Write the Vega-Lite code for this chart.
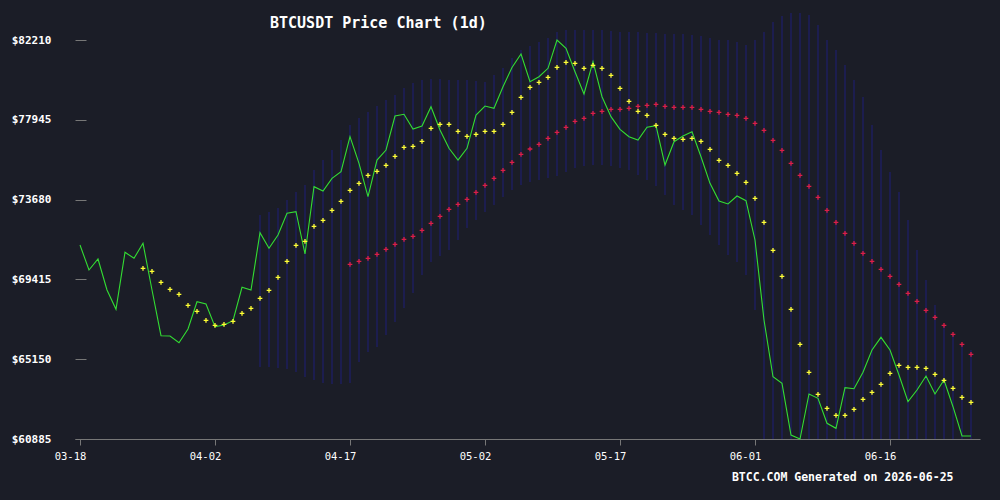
{
  "$schema": "https://vega.github.io/schema/vega-lite/v6.json",
  "width": 905,
  "height": 399,
  "autosize": "none",
  "padding": {"left": 75, "top": 40, "right": 20, "bottom": 61},
  "background": "#1b1d27",
  "title": {
    "text": "BTCUSDT Price Chart (1d)",
    "anchor": "start",
    "frame": "group",
    "dx": 195,
    "offset": -31,
    "baseline": "alphabetic",
    "font": "DejaVu Sans Mono",
    "fontSize": 15,
    "fontWeight": "bold",
    "color": "#ffffff"
  },
  "data": {
    "values": [
      {"d": "2026-03-18", "c": 71254},
      {"d": "2026-03-19", "c": 69917},
      {"d": "2026-03-20", "c": 70505},
      {"d": "2026-03-21", "c": 68848},
      {"d": "2026-03-22", "c": 67817},
      {"d": "2026-03-23", "c": 70863},
      {"d": "2026-03-24", "c": 70543},
      {"d": "2026-03-25", "c": 71344, "m7": 70008},
      {"d": "2026-03-26", "c": 68848, "m7": 69848},
      {"d": "2026-03-27", "c": 66406, "m7": 69260},
      {"d": "2026-03-28", "c": 66390, "m7": 68886},
      {"d": "2026-03-29", "c": 66032, "m7": 68619},
      {"d": "2026-03-30", "c": 66764, "m7": 68031},
      {"d": "2026-03-31", "c": 68223, "m7": 67710},
      {"d": "2026-04-01", "c": 68100, "m7": 67229},
      {"d": "2026-04-02", "c": 66887, "m7": 66962},
      {"d": "2026-04-03", "c": 66978, "m7": 67015},
      {"d": "2026-04-04", "c": 67208, "m7": 67176},
      {"d": "2026-04-05", "c": 68993, "m7": 67603},
      {"d": "2026-04-06", "c": 68848, "m7": 67870},
      {"d": "2026-04-07", "c": 71911, "m7": 68405, "up": 72857, "lo": 64733},
      {"d": "2026-04-08", "c": 71077, "m7": 68832, "up": 73017, "lo": 64733},
      {"d": "2026-04-09", "c": 71788, "m7": 69527, "up": 73231, "lo": 64680},
      {"d": "2026-04-10", "c": 72948, "m7": 70382, "up": 73659, "lo": 64626},
      {"d": "2026-04-11", "c": 73033, "m7": 71238, "up": 74086, "lo": 64466},
      {"d": "2026-04-12", "c": 70773, "m7": 71451, "up": 74460, "lo": 64199},
      {"d": "2026-04-13", "c": 74370, "m7": 72253, "up": 75262, "lo": 64038},
      {"d": "2026-04-14", "c": 74140, "m7": 72574, "up": 75796, "lo": 63878},
      {"d": "2026-04-15", "c": 74818, "m7": 73108, "up": 76331, "lo": 63825},
      {"d": "2026-04-16", "c": 75171, "m7": 73589, "up": 76865, "lo": 63825},
      {"d": "2026-04-17", "c": 77042, "m7": 74177, "m30": 70222, "up": 77667, "lo": 63878},
      {"d": "2026-04-18", "c": 75620, "m7": 74551, "m30": 70382, "up": 78041, "lo": 65000},
      {"d": "2026-04-19", "c": 73835, "m7": 74979, "m30": 70543, "up": 78362, "lo": 65535},
      {"d": "2026-04-20", "c": 75796, "m7": 75193, "m30": 70756, "up": 78683, "lo": 65802},
      {"d": "2026-04-21", "c": 76331, "m7": 75513, "m30": 71024, "up": 79003, "lo": 66443},
      {"d": "2026-04-22", "c": 78148, "m7": 75994, "m30": 71291, "up": 79270, "lo": 67138},
      {"d": "2026-04-23", "c": 78239, "m7": 76475, "m30": 71558, "up": 79645, "lo": 67886},
      {"d": "2026-04-24", "c": 77453, "m7": 76529, "m30": 71719, "up": 79912, "lo": 68688},
      {"d": "2026-04-25", "c": 77614, "m7": 76796, "m30": 72039, "up": 80072, "lo": 69650},
      {"d": "2026-04-26", "c": 78645, "m7": 77491, "m30": 72413, "up": 80126, "lo": 70345},
      {"d": "2026-04-27", "c": 77400, "m7": 77704, "m30": 72787, "up": 80126, "lo": 70666},
      {"d": "2026-04-28", "c": 76422, "m7": 77704, "m30": 73162, "up": 80072, "lo": 70986},
      {"d": "2026-04-29", "c": 75796, "m7": 77330, "m30": 73429, "up": 80072, "lo": 71521},
      {"d": "2026-04-30", "c": 76422, "m7": 77063, "m30": 73696, "up": 80072, "lo": 72162},
      {"d": "2026-05-01", "c": 78202, "m7": 77170, "m30": 74070, "up": 80019, "lo": 72590},
      {"d": "2026-05-02", "c": 78683, "m7": 77330, "m30": 74444, "up": 79965, "lo": 73017},
      {"d": "2026-05-03", "c": 78560, "m7": 77330, "m30": 74818, "up": 80339, "lo": 73391},
      {"d": "2026-05-04", "c": 79714, "m7": 77704, "m30": 75246, "up": 80714, "lo": 73819},
      {"d": "2026-05-05", "c": 80740, "m7": 78346, "m30": 75674, "up": 81248, "lo": 74193},
      {"d": "2026-05-06", "c": 81462, "m7": 79148, "m30": 76101, "up": 81676, "lo": 74460},
      {"d": "2026-05-07", "c": 79981, "m7": 79682, "m30": 76384, "up": 81889, "lo": 74621},
      {"d": "2026-05-08", "c": 80249, "m7": 79949, "m30": 76636, "up": 82103, "lo": 74728},
      {"d": "2026-05-09", "c": 80697, "m7": 80216, "m30": 76956, "up": 82317, "lo": 74834},
      {"d": "2026-05-10", "c": 82210, "m7": 80751, "m30": 77277, "up": 82638, "lo": 74941},
      {"d": "2026-05-11", "c": 81766, "m7": 81018, "m30": 77544, "up": 82744, "lo": 75155},
      {"d": "2026-05-12", "c": 80516, "m7": 80965, "m30": 77865, "up": 82744, "lo": 75369},
      {"d": "2026-05-13", "c": 79324, "m7": 80697, "m30": 78025, "up": 82744, "lo": 75476},
      {"d": "2026-05-14", "c": 81050, "m7": 80858, "m30": 78292, "up": 82744, "lo": 75529},
      {"d": "2026-05-15", "c": 79180, "m7": 80697, "m30": 78399, "up": 82744, "lo": 75529},
      {"d": "2026-05-16", "c": 78111, "m7": 80323, "m30": 78506, "up": 82691, "lo": 75476},
      {"d": "2026-05-17", "c": 77437, "m7": 79629, "m30": 78506, "up": 82638, "lo": 75369},
      {"d": "2026-05-18", "c": 77042, "m7": 78934, "m30": 78560, "up": 82638, "lo": 75262},
      {"d": "2026-05-19", "c": 76865, "m7": 78399, "m30": 78667, "up": 82638, "lo": 74995},
      {"d": "2026-05-20", "c": 77544, "m7": 78185, "m30": 78720, "up": 82584, "lo": 74728},
      {"d": "2026-05-21", "c": 77630, "m7": 77651, "m30": 78773, "up": 82584, "lo": 74407},
      {"d": "2026-05-22", "c": 75529, "m7": 77170, "m30": 78667, "up": 82531, "lo": 73926},
      {"d": "2026-05-23", "c": 76775, "m7": 76956, "m30": 78613, "up": 82531, "lo": 73391},
      {"d": "2026-05-24", "c": 77079, "m7": 76903, "m30": 78613, "up": 82531, "lo": 73124},
      {"d": "2026-05-25", "c": 77309, "m7": 76956, "m30": 78613, "up": 82477, "lo": 72857},
      {"d": "2026-05-26", "c": 75973, "m7": 76796, "m30": 78506, "up": 82424, "lo": 72322},
      {"d": "2026-05-27", "c": 74551, "m7": 76368, "m30": 78399, "up": 82317, "lo": 71788},
      {"d": "2026-05-28", "c": 73605, "m7": 75780, "m30": 78346, "up": 82210, "lo": 71254},
      {"d": "2026-05-29", "c": 73445, "m7": 75513, "m30": 78239, "up": 82210, "lo": 70719},
      {"d": "2026-05-30", "c": 73872, "m7": 75086, "m30": 78185, "up": 82103, "lo": 70345},
      {"d": "2026-05-31", "c": 73621, "m7": 74605, "m30": 78025, "up": 81943, "lo": 69650},
      {"d": "2026-06-01", "c": 71521, "m7": 73749, "m30": 77758, "up": 82210, "lo": 67780},
      {"d": "2026-06-02", "c": 67245, "m7": 72467, "m30": 77384, "up": 82638, "lo": 60885},
      {"d": "2026-06-03", "c": 64214, "m7": 70970, "m30": 76849, "up": 83172, "lo": 60885},
      {"d": "2026-06-04", "c": 63862, "m7": 69581, "m30": 76315, "up": 83493, "lo": 60885},
      {"d": "2026-06-05", "c": 61099, "m7": 67817, "m30": 75620, "up": 83653, "lo": 60885},
      {"d": "2026-06-06", "c": 60885, "m7": 65946, "m30": 74979, "up": 83653, "lo": 60885},
      {"d": "2026-06-07", "c": 63290, "m7": 64450, "m30": 74391, "up": 83546, "lo": 60885},
      {"d": "2026-06-08", "c": 63060, "m7": 63274, "m30": 73803, "up": 83012, "lo": 60885},
      {"d": "2026-06-09", "c": 61724, "m7": 62526, "m30": 73108, "up": 82210, "lo": 60885},
      {"d": "2026-06-10", "c": 61457, "m7": 62152, "m30": 72467, "up": 81676, "lo": 60885},
      {"d": "2026-06-11", "c": 63627, "m7": 62152, "m30": 71879, "up": 80874, "lo": 60885},
      {"d": "2026-06-12", "c": 63574, "m7": 62472, "m30": 71344, "up": 80072, "lo": 60885},
      {"d": "2026-06-13", "c": 64450, "m7": 63007, "m30": 70810, "up": 79163, "lo": 60885},
      {"d": "2026-06-14", "c": 65642, "m7": 63381, "m30": 70382, "up": 77667, "lo": 60885},
      {"d": "2026-06-15", "c": 66320, "m7": 63809, "m30": 69955, "up": 76331, "lo": 60885},
      {"d": "2026-06-16", "c": 65642, "m7": 64396, "m30": 69581, "up": 75155, "lo": 60885},
      {"d": "2026-06-17", "c": 64306, "m7": 64824, "m30": 69153, "up": 74086, "lo": 60885},
      {"d": "2026-06-18", "c": 62878, "m7": 64717, "m30": 68672, "up": 72590, "lo": 60885},
      {"d": "2026-06-19", "c": 63504, "m7": 64717, "m30": 68244, "up": 70986, "lo": 60885},
      {"d": "2026-06-20", "c": 64252, "m7": 64664, "m30": 67764, "up": 69383, "lo": 60885},
      {"d": "2026-06-21", "c": 63290, "m7": 64343, "m30": 67389, "up": 68047, "lo": 60885},
      {"d": "2026-06-22", "c": 64038, "m7": 64022, "m30": 66962, "up": 66978, "lo": 60885},
      {"d": "2026-06-23", "c": 62611, "m7": 63595, "m30": 66481, "up": 66444, "lo": 60885},
      {"d": "2026-06-24", "c": 61045, "m7": 63114, "m30": 65946, "up": 65909, "lo": 60885},
      {"d": "2026-06-25", "c": 61045, "m7": 62847, "m30": 65412, "up": 65642, "lo": 60885}
    ]
  },
  "encoding": {
    "x": {
      "field": "d",
      "type": "temporal",
      "scale": {
        "type": "utc",
        "domain": [
          {"year": 2026, "month": 3, "date": 17, "hours": 10, "minutes": 40, "utc": true},
          {"year": 2026, "month": 6, "date": 26, "utc": true}
        ]
      },
      "axis": {
        "values": [
          {"year": 2026, "month": 3, "date": 18, "utc": true},
          {"year": 2026, "month": 4, "date": 2, "utc": true},
          {"year": 2026, "month": 4, "date": 17, "utc": true},
          {"year": 2026, "month": 5, "date": 2, "utc": true},
          {"year": 2026, "month": 5, "date": 17, "utc": true},
          {"year": 2026, "month": 6, "date": 1, "utc": true},
          {"year": 2026, "month": 6, "date": 16, "utc": true}
        ],
        "format": "%m-%d",
        "grid": false,
        "domainColor": "#777777",
        "tickColor": "#777777",
        "tickSize": 6,
        "labelOffset": -10,
        "labelPadding": 6,
        "labelColor": "#ffffff",
        "labelFont": "DejaVu Sans Mono",
        "labelFontSize": 10.5,
        "title": "BTCC.COM Generated on 2026-06-25",
        "titleX": 878,
        "titleY": 38,
        "titleAlign": "right",
        "titleBaseline": "middle",
        "titleColor": "#ffffff",
        "titleFont": "DejaVu Sans Mono",
        "titleFontSize": 11.5,
        "titleFontWeight": "bold"
      }
    }
  },
  "layer": [
    {
      "transform": [{"filter": "isValid(datum.up)"}],
      "mark": {"type": "rule", "color": "#1d1f62", "strokeWidth": 1.4},
      "encoding": {
        "y": {"field": "up", "type": "quantitative"},
        "y2": {"field": "lo"}
      }
    },
    {
      "mark": {"type": "line", "color": "#33dd33", "strokeWidth": 1.1},
      "encoding": {
        "y": {
          "field": "c",
          "type": "quantitative",
          "scale": {"domain": [60885, 82210], "nice": false, "zero": false},
          "axis": {
            "values": [60885, 65150, 69415, 73680, 77945, 82210],
            "labelExpr": "'$' + format(datum.value, 'd')",
            "domain": false,
            "grid": false,
            "offset": -11,
            "tickSize": 11,
            "tickColor": "#777777",
            "labelPadding": 24,
            "labelColor": "#ffffff",
            "labelFont": "DejaVu Sans Mono",
            "labelFontSize": 11,
            "labelFontWeight": "bold",
            "title": null
          }
        }
      }
    },
    {
      "transform": [{"filter": "isValid(datum.m7)"}],
      "mark": {"type": "point", "shape": "M-1,0L1,0M0,-1L0,1", "filled": false, "size": 22, "strokeWidth": 1.3, "color": "#ffff33", "opacity": 1},
      "encoding": {
        "y": {"field": "m7", "type": "quantitative"}
      }
    },
    {
      "transform": [{"filter": "isValid(datum.m30)"}],
      "mark": {"type": "point", "shape": "M-1,0L1,0M0,-1L0,1", "filled": false, "size": 22, "strokeWidth": 1.3, "color": "#dc1e46", "opacity": 1},
      "encoding": {
        "y": {"field": "m30", "type": "quantitative"}
      }
    }
  ],
  "config": {
    "view": {"stroke": null}
  }
}
